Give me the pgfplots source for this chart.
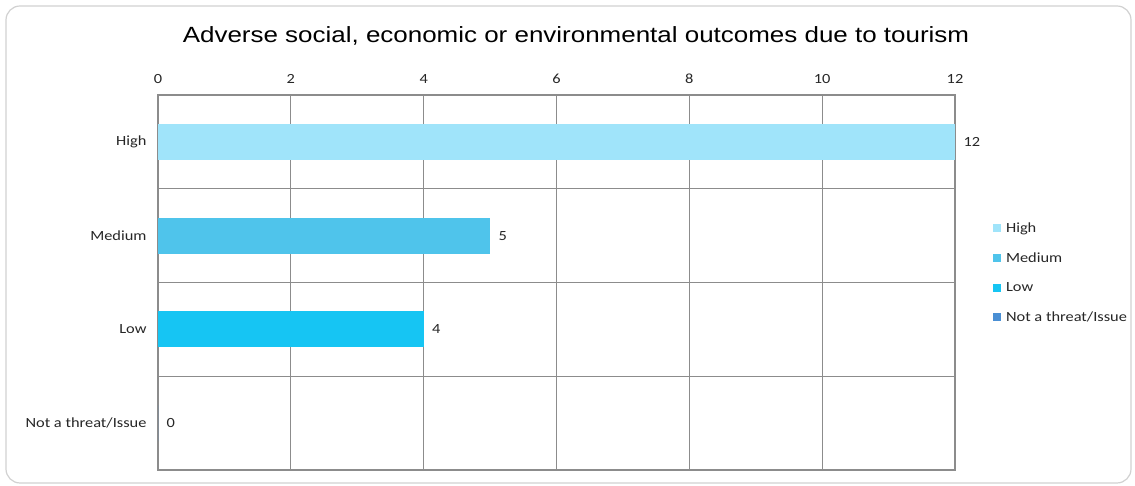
\documentclass[border=0pt]{standalone}
\usepackage{pgfplots}
\pgfplotsset{compat=1.18}
\usepackage{fontspec}
\setmainfont{Carlito}[FakeStretch=1.17]
\newfontfamily\titlefont{Liberation Sans}[FakeStretch=1.18]
\definecolor{cHigh}{HTML}{A0E4FA}
\definecolor{cMed}{HTML}{4FC4EB}
\definecolor{cLow}{HTML}{16C5F3}
\definecolor{cNot}{HTML}{4A8FD4}
\definecolor{gridgray}{HTML}{8C8C8C}
\begin{document}
\begin{tikzpicture}
\useasboundingbox (0,0) rectangle (1135pt,486pt);
\draw[black!18, line width=1.2pt, rounded corners=14pt] (6pt,3pt) rectangle (1131pt,480pt);
\node[font=\titlefont\fontsize{22}{26}\selectfont] at (576pt,450pt) {Adverse social, economic or environmental outcomes due to tourism};
\begin{axis}[
  at={(158pt,16pt)}, anchor=south west,
  scale only axis, width=797pt, height=375pt,
  xbar, bar width=36pt, bar shift=0pt,
  xmin=0, xmax=12, ymin=-0.5, ymax=3.5,
  xtick={0,2,4,6,8,10,12}, xticklabel pos=upper,
  ytick={0,1,2,3}, yticklabels={Not a threat/Issue,Low,Medium,High},
  minor ytick={-0.5,0.5,1.5,2.5,3.5},
  yminorgrids, xmajorgrids, ymajorgrids=false,
  grid style={gridgray, line width=1.2pt},
  minor grid style={gridgray, line width=1.2pt},
  axis line style={gridgray, line width=1.2pt},
  major tick length=0pt, minor tick length=0pt,
  tick label style={font=\fontsize{14}{16}\selectfont, text=black!85},
  xticklabel style={yshift=8pt},
  yticklabel style={xshift=-8pt},
  /pgf/number format/assume math mode=true,
  nodes near coords,
  every node near coord/.append style={font=\fontsize{14}{16}\selectfont, text=black!85, anchor=west, xshift=5pt},
  legend style={at={(rel axis cs:1.0475,0.665)}, anchor=north west, draw=none, fill=none,
    font=\fontsize{14}{16}\selectfont, text=black!85, row sep=14.6pt, inner sep=0pt},
  legend cell align=left,
  legend image code/.code={\fill[#1] (0pt,-4pt) rectangle (8pt,4pt); \path (11pt,0pt);},
]
\addplot[fill=cHigh, draw=none] coordinates {(12,3)};
\addplot[fill=cMed, draw=none] coordinates {(5,2)};
\addplot[fill=cLow, draw=none] coordinates {(4,1)};
\addplot[fill=cNot, draw=none] coordinates {(0,0)};
\legend{High,Medium,Low,Not a threat/Issue}
\end{axis}
\end{tikzpicture}
\end{document}
